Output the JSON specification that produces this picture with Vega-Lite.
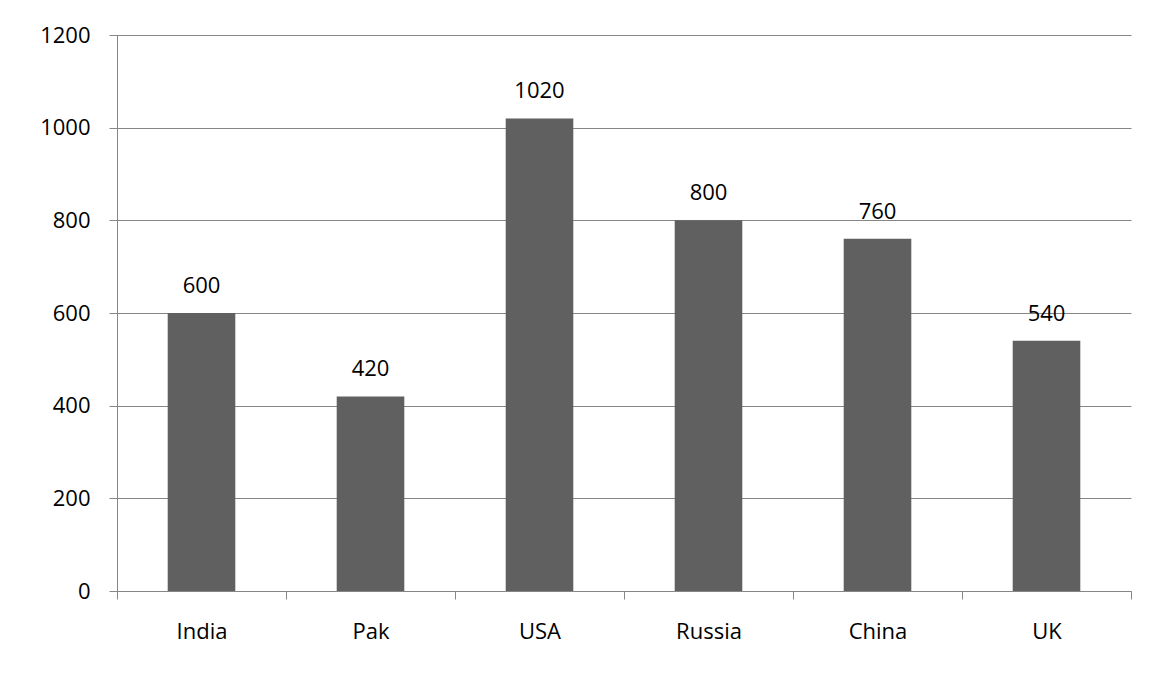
{
  "$schema": "https://vega.github.io/schema/vega-lite/v6.json",
  "autosize": {"type": "none"},
  "padding": {"left": 117, "top": 35, "right": 19, "bottom": 82},
  "width": 1014,
  "height": 556,
  "background": "white",
  "config": {
    "view": {"stroke": null},
    "font": "Open Sans",
    "axis": {"labelFont": "Open Sans", "labelColor": "#000000", "labelFontSize": 22}
  },
  "data": {
    "values": [
      {"country": "India", "value": 600},
      {"country": "Pak", "value": 420},
      {"country": "USA", "value": 1020},
      {"country": "Russia", "value": 800},
      {"country": "China", "value": 760},
      {"country": "UK", "value": 540}
    ]
  },
  "encoding": {
    "x": {
      "field": "country", "type": "nominal", "sort": null,
      "scale": {"paddingInner": 0, "paddingOuter": 0},
      "axis": {
        "title": null, "labelAngle": 0, "tickBand": "extent",
        "domainColor": "#868686", "tickColor": "#868686", "tickSize": 8,
        "labelPadding": 22, "grid": false
      }
    },
    "y": {
      "field": "value", "type": "quantitative",
      "scale": {"domain": [0, 1200], "nice": false},
      "axis": {
        "title": null, "values": [0, 200, 400, 600, 800, 1000, 1200], "format": "d",
        "domainColor": "#868686", "tickColor": "#868686", "tickSize": 8,
        "gridColor": "#868686", "grid": true, "labelPadding": 19
      }
    }
  },
  "layer": [
    {"mark": {"type": "bar", "color": "#606060", "width": {"band": 0.4}}},
    {
      "mark": {"type": "text", "dy": -20, "baseline": "alphabetic", "fontSize": 22, "color": "#000000", "font": "Open Sans"},
      "encoding": {"text": {"field": "value", "type": "quantitative", "format": "d"}}
    }
  ]
}
